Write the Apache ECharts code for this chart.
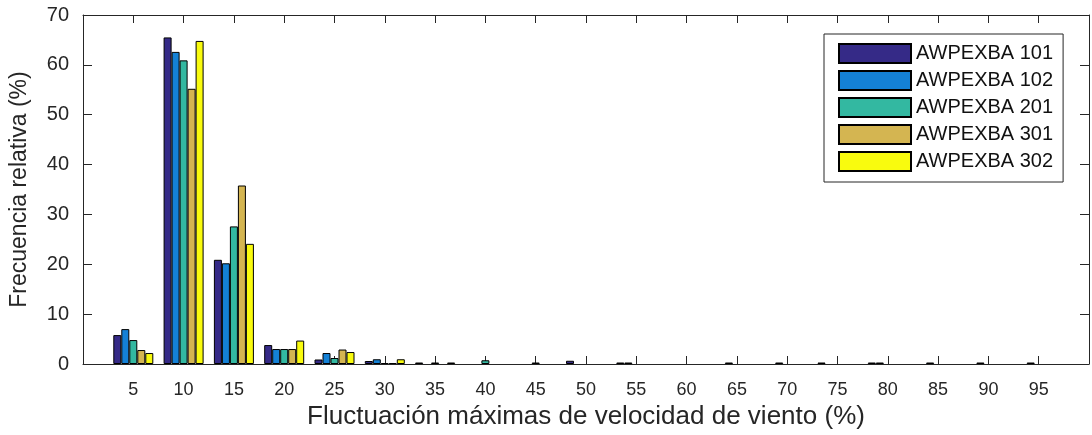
<!DOCTYPE html>
<html>
<head>
<meta charset="utf-8">
<script src="https://cdn.jsdelivr.net/npm/echarts@6/dist/echarts.min.js"></script>
<style>
  html, body { margin: 0; padding: 0; background: #fff; overflow: hidden; }
  #chart { width: 1092px; height: 435px; }
</style>
</head>
<body>
<div id="chart"></div>
<script>
// Bin centres of the maximum wind-speed fluctuation (%)
const categories = [5, 10, 15, 20, 25, 30, 35, 40, 45, 50, 55, 60, 65, 70, 75, 80, 85, 90, 95];

// Relative frequency (%) per bin, one array per station
const awpexba101 = [5.8, 65.5, 20.9, 3.8, 0.9, 0.6, 0.3, 0, 0, 0.65, 0.3, 0, 0, 0, 0.3, 0.3, 0, 0, 0];
const awpexba102 = [7.0, 62.6, 20.2, 3.0, 2.2, 0.95, 0, 0, 0, 0, 0.3, 0, 0.3, 0.3, 0, 0.3, 0.3, 0.3, 0.3];
const awpexba201 = [4.8, 60.9, 27.6, 3.0, 1.2, 0.2, 0.3, 0.75, 0.3, 0, 0, 0, 0, 0, 0, 0, 0, 0, 0];
const awpexba301 = [2.8, 55.2, 35.8, 3.0, 2.9, 0.2, 0, 0, 0, 0, 0, 0, 0, 0, 0, 0, 0, 0, 0];
const awpexba302 = [2.2, 64.8, 24.1, 4.7, 2.4, 0.95, 0.3, 0, 0, 0, 0, 0, 0, 0, 0, 0, 0, 0, 0];

const seriesNames = ['AWPEXBA 101', 'AWPEXBA 102', 'AWPEXBA 201', 'AWPEXBA 301', 'AWPEXBA 302'];
const seriesValues = [awpexba101, awpexba102, awpexba201, awpexba301, awpexba302];
const seriesColors = ['#352A87', '#1481D6', '#33B8A1', '#D4B551', '#F9FB0E'];

const yTicks = [0, 10, 20, 30, 40, 50, 60, 70];

const axisColor = '#262626';
const font = 'Liberation Sans, Arial, sans-serif';

const chart = echarts.init(document.getElementById('chart'), null, { renderer: 'canvas' });

const xTick = { show: true, inside: true, length: 8, lineStyle: { color: axisColor, width: 1 } };
const yTick = { show: true, inside: true, length: 9, lineStyle: { color: axisColor, width: 1 } };
const axisLine = { show: true, onZero: false, lineStyle: { color: axisColor, width: 1 } };

chart.setOption({
  animation: false,
  backgroundColor: '#fff',
  grid: { left: 82, right: -3, top: 15, bottom: 71, containLabel: false },
  legend: {
    data: seriesNames,
    orient: 'vertical',
    left: 824,
    top: 34,
    padding: [9, 10, 10, 14],
    itemWidth: 72,
    itemHeight: 19,
    itemGap: 6,
    icon: 'rect',
    backgroundColor: '#fff',
    borderColor: axisColor,
    borderWidth: 1,
    textStyle: { fontFamily: font, fontSize: 20, lineHeight: 20, color: '#111' }
  },
  xAxis: [
    {
      type: 'value',
      min: 0,
      max: 100,
      interval: 5,
      position: 'bottom',
      name: 'Fluctuación máximas de velocidad de viento (%)',
      nameLocation: 'middle',
      nameGap: 37,
      nameTextStyle: { fontFamily: font, fontSize: 26, color: axisColor, verticalAlign: 'top' },
      axisLine: axisLine,
      axisTick: xTick,
      splitLine: { show: false },
      axisLabel: {
        margin: 17,
        fontFamily: font,
        fontSize: 18,
        color: axisColor,
        formatter: v => (categories.indexOf(v) >= 0 ? String(v) : '')
      }
    },
    {
      type: 'value',
      min: 0,
      max: 100,
      interval: 5,
      position: 'top',
      axisLine: axisLine,
      axisTick: xTick,
      axisLabel: { show: false },
      splitLine: { show: false }
    }
  ],
  yAxis: [
    {
      type: 'value',
      min: 0,
      max: 70,
      interval: 10,
      position: 'left',
      name: 'Frecuencia relativa (%)',
      nameLocation: 'middle',
      nameGap: 52,
      nameTextStyle: { fontFamily: font, fontSize: 23, color: axisColor },
      axisLine: axisLine,
      axisTick: yTick,
      splitLine: { show: false },
      axisLabel: {
        margin: 14,
        fontFamily: font,
        fontSize: 20,
        color: axisColor,
        formatter: v => (yTicks.indexOf(v) >= 0 ? String(v) : '')
      }
    },
    {
      type: 'value',
      min: 0,
      max: 70,
      interval: 10,
      position: 'right',
      axisLine: axisLine,
      axisTick: yTick,
      axisLabel: { show: false },
      splitLine: { show: false }
    }
  ],
  series: seriesNames.map((name, i) => ({
    type: 'bar',
    name: name,
    xAxisIndex: 0,
    yAxisIndex: 0,
    barWidth: 8,
    barGap: '0%',
    itemStyle: { color: seriesColors[i], borderColor: '#000', borderWidth: 1 },
    // empty bins keep their zero value but draw no outline on the baseline
    data: categories.map((c, j) => {
      const v = seriesValues[i][j];
      return v === 0 ? { value: [c, v], itemStyle: { borderWidth: 0 } } : [c, v];
    })
  }))
});
</script>
</body>
</html>
